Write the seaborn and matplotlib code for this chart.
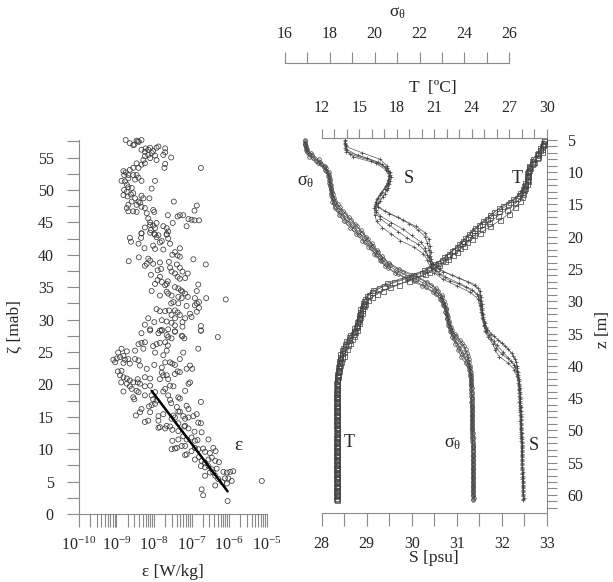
import numpy as np
import pandas as pd
import matplotlib
matplotlib.use("Agg")
import matplotlib.pyplot as plt
import seaborn as sns
from matplotlib.ticker import MultipleLocator, LogLocator, NullFormatter

# dissipation estimates: log10(eps [W/kg]) and height above bottom zeta [mab]
log_eps = [
    # upper layer
    -8.75, -8.64, -8.52, -8.46, -8.40, -8.33, -8.43, -8.55, -8.22, -8.15,
    -8.10, -7.88, -7.93, -7.70, -7.70, -8.33, -8.24, -8.06, -8.02, -8.15,
    -8.24, -8.28, -8.10, -7.97, -7.93, -7.75, -7.54, -7.70, -7.72, -8.46,
    -8.33, -8.24, -8.41, -8.55, -8.64, -8.81, -8.75, -8.79, -8.68, -8.55,
    -8.46, -8.41, -8.33, -8.50, -8.68, -8.86, -8.77, -8.72, -8.68, -8.59,
    -8.79, -8.72, -8.81, -8.70, -8.61, -8.55, -8.50, -8.33, -8.28, -8.41,
    -8.46, -8.37, -8.33, -8.59, -8.68, -8.72, -8.68, -8.55, -8.46, -8.24,
    -8.19, -8.15, -8.10, -8.02, -7.99, -7.97, -8.06, -8.12, -7.47, -7.63,
    -7.37, -7.31, -7.22, -6.86, -6.92, -7.08, -7.00, -6.92, -6.80, -7.13,
    -7.50, -7.75, -7.66, -7.62, -8.10, -8.02, -7.93, -7.97, -8.08, -8.24,
    -8.33, -7.99, -7.66, -6.75,
    # 28 - 43 mab
    -8.64, -8.61, -8.41, -8.34, -8.33, -8.10, -7.97, -7.88, -7.93, -7.66,
    -7.62, -7.57, -7.79, -7.84, -8.25, -8.02, -7.97, -7.75, -7.31, -7.44,
    -7.37, -7.31, -7.51, -6.95, -8.40, -8.67, -8.15, -8.10, -8.19, -8.24,
    -8.02, -7.84, -7.60, -7.39, -7.31, -7.57, -7.53, -7.81, -7.90, -8.08,
    -7.44, -7.24, -7.10, -7.37, -7.31, -7.17, -7.84, -7.90, -7.79, -7.66,
    -7.63, -7.70, -7.97, -7.44, -7.35, -7.24, -7.28, -7.17, -6.82, -6.86,
    -6.62, -8.06, -7.84, -7.62, -7.66, -7.53, -7.35, -7.26, -7.10, -6.91,
    -6.86, -6.80, -6.61, -6.09, -7.54, -7.48, -7.35, -7.13, -6.91, -6.80,
    -6.86, -7.93, -7.84, -7.70, -7.60, -7.44, -7.37, -7.53, -7.44, -7.31,
    -7.17, -7.04, -7.00, -8.15, -7.99, -7.79, -7.66, -7.53, -7.44, -7.24,
    -7.24, -8.24, -8.10, -7.84, -7.79, -7.62, -7.44, -6.75, -6.75,
    # 13 - 28 mab
    -8.33, -8.10, -7.88, -7.79, -7.66, -7.62, -7.53, -7.44, -7.26, -7.19,
    -7.24, -6.75, -6.30, -8.41, -8.33, -8.24, -8.02, -7.93, -7.84, -7.70,
    -7.63, -8.50, -8.28, -7.97, -7.75, -7.66, -7.22, -6.82, -8.86, -8.95,
    -9.08, -8.99, -8.90, -8.81, -8.72, -8.77, -8.68, -8.64, -8.81, -8.50,
    -8.41, -8.37, -9.03, -8.19, -7.99, -7.79, -7.70, -7.57, -7.51, -7.44,
    -7.31, -7.04, -6.98, -7.13, -7.37, -7.31, -7.44, -7.79, -7.75, -7.66,
    -7.62, -7.84, -8.10, -8.24, -8.96, -8.86, -8.90, -8.81, -8.72, -8.64,
    -8.55, -8.43, -8.37, -8.43, -8.87, -8.72, -8.64, -8.59, -8.46, -8.24,
    -8.10, -7.57, -7.48, -7.70, -7.75, -7.97, -8.41, -8.81, -7.17, -7.04,
    -7.08, -8.52, -8.55, -8.24, -8.06, -8.02, -7.93, -7.62, -7.57, -7.35,
    -7.31, -6.75, -8.33, -8.13, -7.97, -8.06, -7.54, -7.39, -7.31, -7.13,
    -7.08, -8.48, -8.37, -8.10, -8.15, -7.88, -7.75, -7.48, -7.35, -7.44,
    -7.22, -7.17, -7.08, -6.95, -6.86, -8.24, -7.88, -7.53, -7.35, -7.17,
    -6.82, -6.75, -7.84, -7.66,
    # bottom layer
    -7.88, -7.70, -7.57, -7.51, -7.35, -7.19, -7.08, -6.92, -6.73, -6.55,
    -7.51, -7.35, -7.22, -7.13, -7.00, -6.91, -6.84, -7.17, -7.26, -7.39,
    -7.53, -7.44, -7.13, -7.17, -7.00, -6.91, -6.82, -6.69, -6.64, -6.51,
    -6.42, -6.36, -6.91, -6.80, -6.73, -6.64, -6.55, -6.46, -6.37, -6.27,
    -6.75, -6.64, -6.55, -6.46, -6.33, -6.64, -6.51, -6.42, -6.37, -6.29,
    -6.15, -6.06, -5.97, -5.89, -6.11, -6.02, -5.93, -6.18, -6.06, -6.37,
    -6.73, -6.69, -6.04, -5.13,
]
zeta = [
    57.7, 57.2, 57.0, 57.6, 57.4, 57.7, 57.5, 56.9, 56.4, 56.2,
    56.5, 56.7, 56.5, 56.4, 55.8, 56.2, 55.9, 55.7, 56.0, 55.4,
    55.2, 54.6, 54.9, 55.3, 54.6, 55.4, 55.0, 54.0, 53.4, 54.1,
    53.9, 54.1, 53.4, 53.4, 53.1, 52.9, 52.7, 52.3, 52.3, 52.3,
    52.3, 51.9, 51.4, 51.6, 51.8, 51.4, 51.3, 50.8, 50.4, 50.3,
    50.0, 49.7, 49.2, 49.0, 49.3, 49.5, 48.7, 49.1, 48.7, 48.2,
    47.7, 48.0, 47.4, 48.2, 47.7, 47.2, 46.7, 46.7, 46.6, 47.2,
    46.4, 45.6, 45.0, 46.9, 46.6, 51.4, 50.2, 48.7, 48.2, 46.1,
    45.9, 46.1, 46.1, 47.6, 46.8, 45.5, 45.4, 45.3, 45.3, 44.4,
    44.9, 44.4, 44.1, 43.6, 44.6, 44.5, 44.9, 44.1, 43.8, 44.2,
    43.3, 43.2, 43.2, 53.4,
    42.6, 42.0, 41.7, 42.6, 43.3, 43.4, 43.1, 43.0, 42.7, 43.1,
    42.5, 41.7, 42.1, 41.9, 41.0, 41.4, 40.9, 40.8, 41.0, 40.4,
    39.9, 39.7, 40.0, 39.3, 39.6, 39.0, 39.4, 39.1, 38.6, 38.3,
    38.6, 38.8, 38.9, 38.5, 38.0, 38.0, 37.4, 37.8, 37.6, 36.9,
    37.1, 37.4, 37.1, 36.6, 36.3, 36.4, 36.6, 36.1, 35.8, 35.5,
    35.9, 35.3, 35.5, 35.0, 34.8, 34.3, 34.5, 34.0, 35.4, 34.4,
    38.5, 34.4, 33.7, 34.0, 34.3, 33.7, 33.5, 33.3, 33.5, 33.3,
    32.5, 32.7, 33.3, 33.1, 32.5, 32.7, 32.5, 32.1, 32.2, 31.8,
    31.2, 31.6, 31.3, 31.3, 31.4, 31.4, 31.1, 30.7, 30.2, 30.7,
    30.2, 30.9, 30.4, 30.2, 29.6, 29.9, 29.7, 29.5, 29.1, 29.6,
    28.9, 29.2, 28.5, 28.3, 28.3, 28.5, 28.2, 29.0, 28.3,
    27.9, 28.3, 27.9, 28.4, 27.6, 27.3, 27.1, 28.1, 27.5, 27.1,
    27.4, 28.3, 27.3, 26.2, 26.4, 26.5, 25.9, 26.2, 26.4, 26.5,
    26.0, 25.2, 25.5, 24.9, 24.5, 25.2, 24.9, 25.5, 25.5, 24.9,
    23.8, 24.0, 24.2, 24.4, 25.1, 23.8, 23.9, 23.2, 23.3, 23.9,
    23.7, 22.9, 23.4, 22.4, 23.0, 22.6, 23.4, 23.4, 23.2, 23.0,
    23.9, 22.9, 22.4, 22.4, 22.0, 21.9, 21.6, 21.8, 21.4, 21.4,
    20.8, 20.8, 20.9, 21.1, 22.0, 22.1, 21.4, 21.1, 20.9, 20.6,
    20.3, 20.3, 20.1, 20.8, 20.3, 20.1, 19.7, 19.3, 19.0, 19.7,
    19.8, 19.8, 19.7, 19.3, 18.9, 18.8, 18.8, 18.9, 19.0, 20.3,
    20.1, 17.7, 18.0, 18.3, 18.3, 17.7, 17.5, 18.3, 17.6, 18.0,
    17.8, 17.3, 16.2, 16.6, 17.0, 16.8, 17.1, 16.5, 15.8, 16.7,
    16.2, 15.2, 15.7, 15.7, 14.4, 15.1, 15.4, 15.2, 15.8, 14.9,
    15.1, 14.7, 14.9, 15.1, 15.4, 14.2, 14.4, 14.7, 14.0, 13.6,
    14.1, 14.0, 13.4, 13.6,
    13.3, 13.2, 13.5, 13.0, 12.8, 13.5, 13.2, 12.7, 12.6, 11.5,
    11.3, 11.5, 12.0, 11.5, 11.8, 11.3, 11.4, 10.5, 10.5, 10.2,
    10.0, 10.1, 9.2, 9.1, 9.7, 10.2, 10.0, 10.1, 9.6, 9.4,
    10.2, 9.7, 8.4, 8.8, 8.2, 7.9, 8.4, 8.7, 8.2, 8.0,
    7.4, 7.2, 7.4, 6.9, 7.0, 5.9, 6.4, 6.4, 5.9, 5.4,
    6.5, 6.4, 6.5, 6.6, 5.5, 5.5, 5.1, 4.9, 4.7, 4.4,
    3.8, 2.9, 2.0, 5.1,
]

# fit line over the bottom boundary layer
fit_log_eps = [-8.06, -6.04]
fit_zeta = [19.0, 3.5]

# CTD casts binned to 1 m; each cast sits slightly deeper than the one before
depth = [5, 6, 7, 8, 9, 10, 11, 12, 13, 14, 15, 16, 17, 18, 19, 20, 21, 22, 23, 24,
         25, 26, 27, 28, 29, 30, 31, 32, 33, 34, 35, 36, 37, 38, 39, 40, 41, 42, 43, 44,
         45, 46, 47, 48, 49, 50, 51, 52, 53, 54, 55, 56, 57, 58, 59, 60]
cast_shift = [0.0, 0.2, 0.4, 0.6, 0.8]

temp_casts = [
    [29.8, 29.6, 29.3, 28.9, 28.6, 28.5, 28.4, 28.3, 28.0, 27.6, 26.9, 26.2, 25.5, 24.8,
     24.2, 23.7, 23.2, 22.6, 22.0, 21.3, 20.5, 19.3, 17.8, 16.6, 15.8, 15.4, 15.2, 15.05,
     14.9, 14.75, 14.5, 14.15, 13.85, 13.6, 13.45, 13.35, 13.28, 13.22,
     13.21, 13.2, 13.2, 13.19, 13.2, 13.2, 13.21, 13.2, 13.2, 13.2, 13.19, 13.2, 13.2,
     13.2, 13.2, 13.19, 13.2, 13.2],
    [29.8, 29.5, 29.2, 28.8, 28.6, 28.4, 28.4, 28.2, 27.9, 27.3, 26.5, 25.8, 25.2, 24.6,
     24.0, 23.5, 23.0, 22.4, 21.8, 21.1, 20.2, 18.8, 17.2, 16.1, 15.6, 15.3, 15.1, 14.95,
     14.8, 14.6, 14.3, 13.95, 13.7, 13.5, 13.38, 13.3, 13.25, 13.2,
     13.19, 13.18, 13.18, 13.18, 13.17, 13.18, 13.18, 13.19, 13.18, 13.18, 13.17, 13.18,
     13.18, 13.18, 13.17, 13.18, 13.18, 13.18],
    [29.7, 29.6, 29.3, 29.0, 28.7, 28.5, 28.5, 28.3, 28.1, 27.9, 27.5, 27.0, 26.3, 25.5,
     24.7, 24.0, 23.4, 22.8, 22.1, 21.4, 20.6, 19.5, 18.2, 16.9, 16.0, 15.5, 15.25, 15.1,
     14.95, 14.8, 14.6, 14.3, 14.0, 13.75, 13.55, 13.4, 13.3, 13.24,
     13.23, 13.22, 13.22, 13.22, 13.21, 13.22, 13.22, 13.23, 13.22, 13.22, 13.21, 13.22,
     13.22, 13.22, 13.21, 13.22, 13.22, 13.22],
    [29.8, 29.5, 29.3, 28.9, 28.6, 28.5, 28.3, 28.1, 27.8, 27.1, 26.2, 25.5, 24.9, 24.3,
     23.8, 23.3, 22.8, 22.2, 21.6, 20.9, 20.0, 18.6, 17.0, 16.0, 15.5, 15.3, 15.1, 14.95,
     14.8, 14.55, 14.2, 13.85, 13.6, 13.45, 13.35, 13.28, 13.22, 13.18,
     13.17, 13.17, 13.16, 13.17, 13.17, 13.17, 13.16, 13.17, 13.17, 13.17, 13.16, 13.17,
     13.17, 13.17, 13.16, 13.17, 13.17, 13.17],
    [29.7, 29.6, 29.2, 28.8, 28.5, 28.4, 28.4, 28.2, 28.0, 27.5, 26.8, 26.1, 25.4, 24.8,
     24.2, 23.6, 23.1, 22.5, 21.9, 21.2, 20.3, 19.0, 17.5, 16.4, 15.7, 15.4, 15.2, 15.0,
     14.85, 14.7, 14.45, 14.1, 13.8, 13.6, 13.45, 13.35, 13.27, 13.22,
     13.21, 13.21, 13.2, 13.21, 13.21, 13.21, 13.2, 13.21, 13.21, 13.21, 13.2, 13.21,
     13.21, 13.21, 13.2, 13.21, 13.21, 13.21],
]

sal_casts = [
    [28.52, 28.53, 28.90, 29.30, 29.45, 29.52, 29.50, 29.45, 29.35, 29.25, 29.20, 29.40,
     29.70, 29.95, 30.15, 30.30, 30.35, 30.38, 30.40, 30.45, 30.60, 30.90, 31.25, 31.48,
     31.52, 31.54, 31.56, 31.58, 31.61, 31.66, 31.76, 31.92, 32.08, 32.22, 32.30, 32.34,
     32.36, 32.38,
     32.39, 32.40, 32.40, 32.41, 32.42, 32.42, 32.43, 32.43, 32.44, 32.44, 32.45, 32.45,
     32.46, 32.46, 32.47, 32.47, 32.48, 32.48],
    [28.52, 28.52, 28.62, 29.10, 29.40, 29.50, 29.48, 29.42, 29.32, 29.22, 29.18, 29.20,
     29.30, 29.50, 29.70, 29.90, 30.15, 30.30, 30.38, 30.42, 30.52, 30.75, 31.05, 31.35,
     31.48, 31.52, 31.55, 31.57, 31.60, 31.64, 31.72, 31.82, 31.88, 32.00, 32.20, 32.30,
     32.35, 32.37,
     32.38, 32.39, 32.40, 32.40, 32.41, 32.42, 32.42, 32.43, 32.43, 32.44, 32.44, 32.45,
     32.45, 32.46, 32.46, 32.47, 32.47, 32.48],
    [28.51, 28.54, 28.80, 29.25, 29.45, 29.52, 29.51, 29.47, 29.40, 29.30, 29.24, 29.50,
     29.80, 30.10, 30.30, 30.38, 30.40, 30.42, 30.43, 30.48, 30.70, 31.05, 31.40, 31.52,
     31.55, 31.56, 31.57, 31.59, 31.62, 31.68, 31.82, 32.00, 32.15, 32.25, 32.32, 32.35,
     32.37, 32.39,
     32.40, 32.40, 32.41, 32.42, 32.42, 32.43, 32.43, 32.44, 32.44, 32.45, 32.45, 32.46,
     32.46, 32.47, 32.47, 32.48, 32.48, 32.49],
    [28.52, 28.53, 28.70, 29.20, 29.42, 29.50, 29.47, 29.40, 29.30, 29.20, 29.17, 29.18,
     29.22, 29.35, 29.55, 29.75, 30.05, 30.25, 30.35, 30.40, 30.50, 30.70, 31.00, 31.30,
     31.47, 31.51, 31.54, 31.57, 31.60, 31.63, 31.70, 31.80, 31.86, 31.95, 32.15, 32.28,
     32.34, 32.37,
     32.38, 32.39, 32.39, 32.40, 32.41, 32.41, 32.42, 32.43, 32.43, 32.44, 32.44, 32.45,
     32.45, 32.46, 32.46, 32.47, 32.47, 32.48],
    [28.53, 28.55, 29.00, 29.35, 29.48, 29.53, 29.50, 29.45, 29.36, 29.26, 29.20, 29.30,
     29.55, 29.80, 30.00, 30.20, 30.30, 30.35, 30.40, 30.45, 30.60, 30.85, 31.20, 31.45,
     31.52, 31.54, 31.56, 31.58, 31.61, 31.66, 31.76, 31.90, 32.02, 32.15, 32.28, 32.33,
     32.36, 32.38,
     32.39, 32.40, 32.40, 32.41, 32.42, 32.42, 32.43, 32.43, 32.44, 32.44, 32.45, 32.45,
     32.46, 32.46, 32.47, 32.47, 32.48, 32.48],
]

sig_casts = [
    [16.89, 16.95, 17.15, 17.50, 17.80, 17.95, 18.00, 18.04, 18.08, 18.18, 18.35, 18.58,
     18.85, 19.12, 19.38, 19.62, 19.86, 20.08, 20.32, 20.62, 21.10, 21.80, 22.35, 22.75,
     22.98, 23.10, 23.18, 23.24, 23.30, 23.40, 23.56, 23.80, 24.00, 24.12, 24.20, 24.25,
     24.28, 24.30,
     24.31, 24.32, 24.32, 24.33, 24.34, 24.34, 24.35, 24.35, 24.36, 24.36, 24.37, 24.37,
     24.38, 24.38, 24.39, 24.39, 24.40, 24.40],
    [16.90, 16.93, 17.05, 17.40, 17.75, 17.92, 17.98, 18.02, 18.05, 18.12, 18.25, 18.45,
     18.70, 18.98, 19.25, 19.52, 19.78, 20.02, 20.25, 20.52, 20.95, 21.60, 22.20, 22.65,
     22.92, 23.06, 23.16, 23.22, 23.28, 23.36, 23.48, 23.62, 23.75, 23.90, 24.10, 24.22,
     24.27, 24.29,
     24.30, 24.31, 24.32, 24.32, 24.33, 24.34, 24.34, 24.35, 24.35, 24.36, 24.36, 24.37,
     24.37, 24.38, 24.38, 24.39, 24.39, 24.40],
    [16.88, 16.97, 17.20, 17.55, 17.82, 17.97, 18.02, 18.06, 18.12, 18.25, 18.45, 18.68,
     18.95, 19.22, 19.45, 19.68, 19.92, 20.14, 20.38, 20.70, 21.25, 21.95, 22.50, 22.82,
     23.02, 23.12, 23.20, 23.26, 23.32, 23.44, 23.62, 23.88, 24.05, 24.15, 24.22, 24.26,
     24.29, 24.31,
     24.32, 24.32, 24.33, 24.34, 24.34, 24.35, 24.35, 24.36, 24.36, 24.37, 24.37, 24.38,
     24.38, 24.39, 24.39, 24.40, 24.40, 24.41],
    [16.90, 16.92, 17.08, 17.45, 17.78, 17.93, 17.98, 18.03, 18.06, 18.10, 18.22, 18.40,
     18.62, 18.90, 19.18, 19.45, 19.72, 19.98, 20.22, 20.48, 20.90, 21.50, 22.10, 22.60,
     22.90, 23.05, 23.15, 23.22, 23.28, 23.35, 23.46, 23.60, 23.72, 23.85, 24.05, 24.20,
     24.26, 24.29,
     24.30, 24.31, 24.31, 24.32, 24.33, 24.33, 24.34, 24.35, 24.35, 24.36, 24.36, 24.37,
     24.37, 24.38, 24.38, 24.39, 24.39, 24.40],
    [16.91, 16.98, 17.25, 17.60, 17.85, 17.98, 18.01, 18.05, 18.09, 18.18, 18.35, 18.55,
     18.80, 19.08, 19.32, 19.58, 19.84, 20.06, 20.30, 20.60, 21.05, 21.75, 22.30, 22.72,
     22.96, 23.09, 23.18, 23.24, 23.30, 23.40, 23.55, 23.75, 23.92, 24.05, 24.18, 24.24,
     24.28, 24.30,
     24.31, 24.32, 24.32, 24.33, 24.34, 24.34, 24.35, 24.35, 24.36, 24.36, 24.37, 24.37,
     24.38, 24.38, 24.39, 24.39, 24.40, 24.40],
]

W, H = 613, 582
GRAY = '#8a8a8a'
LINE = '#5a5a5a'

sns.set_style('ticks')
plt.rcParams['font.family'] = ['Liberation Serif', 'DejaVu Serif']
plt.rcParams['mathtext.fontset'] = 'custom'
plt.rcParams['mathtext.rm'] = 'Liberation Serif'
plt.rcParams['mathtext.it'] = 'Liberation Serif:italic'
plt.rcParams['mathtext.bf'] = 'Liberation Serif:bold'
plt.rcParams['font.size'] = 11.5


def box(x0, x1, y0, y1):
    # pixel box -> figure fraction
    return [x0 / W, 1 - y1 / H, (x1 - x0) / W, (y1 - y0) / H]


diss = pd.DataFrame({'eps': 10.0 ** np.array(log_eps), 'zeta': zeta})
fit = pd.DataFrame({'eps': 10.0 ** np.array(fit_log_eps), 'zeta': fit_zeta})

rows = []
for k, shift in enumerate(cast_shift):
    for i, d in enumerate(depth):
        rows.append({'cast': k, 'z': d + shift, 'T': temp_casts[k][i],
                     'S': sal_casts[k][i], 'sig': sig_casts[k][i]})
prof = pd.DataFrame(rows)

fig = plt.figure(figsize=(W / 100, H / 100), dpi=100)

# ---------------- left panel ----------------
ax1 = fig.add_axes(box(78.7, 266.7, 140, 514))
ax1.set_xscale('log')
sns.scatterplot(data=diss, x='eps', y='zeta', ax=ax1, s=13, marker='o',
                facecolor='none', edgecolor='#3a3a3a', linewidth=0.55, clip_on=False)
sns.lineplot(data=fit, x='eps', y='zeta', ax=ax1, color='black', linewidth=1.8, sort=False)
ax1.set_xlim(1e-10, 1e-5)
ax1.set_ylim(0, 57.7)
ax1.xaxis.set_major_locator(LogLocator(base=10, numticks=12))
ax1.xaxis.set_minor_locator(LogLocator(base=10, subs=(2, 3, 4, 5, 6, 7, 8, 9), numticks=12))
ax1.xaxis.set_minor_formatter(NullFormatter())
ax1.yaxis.set_major_locator(MultipleLocator(5))
ax1.yaxis.set_minor_locator(MultipleLocator(2.5))
ax1.tick_params(axis='both', which='both', direction='out', length=9, width=0.8, color=GRAY)
ax1.tick_params(axis='y', pad=9)
ax1.tick_params(axis='x', pad=7)
for sp in ['top', 'right']:
    ax1.spines[sp].set_visible(False)
for sp in ['left', 'bottom']:
    ax1.spines[sp].set_color(GRAY)
ax1.set_xlabel('ε [W/kg]', fontsize=12.5)
ax1.set_ylabel('ζ [mab]', fontsize=12.5)
ax1.xaxis.set_label_coords(0.5, -0.135)
ax1.yaxis.set_label_coords(-0.30, 0.5)
ax1.text(10 ** -5.76, 10.5, 'ε', fontsize=14, ha='center', va='center')

# ---------------- right panel ----------------
ax_s = fig.add_axes(box(321.7, 546.7, 138, 513))
ax_t = ax_s.twiny()
ax_g = fig.add_axes(box(285, 509.3, 138, 513))
ax_g.patch.set_visible(False)

common = dict(units='cast', estimator=None, sort=False, color=LINE, linewidth=0.5,
              markeredgecolor='#404040', markerfacecolor='none', markeredgewidth=0.5)
sns.lineplot(data=prof, x='S', y='z', ax=ax_s, marker='+', markersize=3.0, **common)
sns.lineplot(data=prof, x='T', y='z', ax=ax_t, marker='s', markersize=3.6, **common)
sns.lineplot(data=prof, x='sig', y='z', ax=ax_g, marker='o', markersize=2.6, **common)

ax_s.set_xlim(28, 33)
ax_s.set_ylim(62.8, 4.7)
ax_t.set_xlim(12, 30)
ax_g.set_xlim(16, 26)
ax_g.set_ylim(62.8, 4.7)

# salinity (bottom) and depth (right)
for sp in ['left', 'top']:
    ax_s.spines[sp].set_visible(False)
for sp in ['right', 'bottom']:
    ax_s.spines[sp].set_color(GRAY)
ax_s.yaxis.tick_right()
ax_s.yaxis.set_label_position('right')
ax_s.yaxis.set_major_locator(MultipleLocator(5))
ax_s.yaxis.set_minor_locator(MultipleLocator(1))
ax_s.xaxis.set_major_locator(MultipleLocator(1))
ax_s.xaxis.set_minor_locator(MultipleLocator(0.5))
ax_s.tick_params(axis='y', which='both', direction='out', length=7, width=0.8, color=GRAY, pad=8)
ax_s.tick_params(axis='x', which='both', direction='out', length=9.5, width=0.8, color=GRAY, pad=7)
ax_s.set_xlabel('S [psu]', fontsize=12.5)
ax_s.xaxis.set_label_coords(0.5, -0.10)
ax_s.set_ylabel('z [m]', rotation=90, va='center', ha='center', fontsize=12.5)
ax_s.yaxis.set_label_coords(1.252, 0.49)

# temperature (top)
for sp in ['left', 'right', 'bottom']:
    ax_t.spines[sp].set_visible(False)
ax_t.spines['top'].set_color(GRAY)
ax_t.xaxis.set_major_locator(MultipleLocator(3))
ax_t.xaxis.set_minor_locator(MultipleLocator(1))
ax_t.tick_params(axis='x', which='both', direction='out', length=6.5, width=0.8, color=GRAY, pad=9)
ax_t.set_xlabel('T  [ºC]', fontsize=12.5)
ax_t.xaxis.set_label_coords(0.495, 1.123)

# potential density (detached top scale)
for sp in ['left', 'right', 'bottom']:
    ax_g.spines[sp].set_visible(False)
ax_g.spines['top'].set_color(GRAY)
ax_g.spines['top'].set_position(('outward', 54))
ax_g.xaxis.tick_top()
ax_g.xaxis.set_label_position('top')
ax_g.xaxis.set_major_locator(MultipleLocator(2))
ax_g.xaxis.set_minor_locator(MultipleLocator(1))
ax_g.tick_params(axis='x', which='both', direction='out', length=8, width=0.8, color=GRAY, pad=7)
ax_g.tick_params(axis='y', which='both', left=False, right=False, labelleft=False, labelright=False)
ax_g.set_ylabel('')
ax_g.set_xlabel(r'$\mathrm{\sigma_\theta}$', fontsize=12.5)
ax_g.xaxis.set_label_coords(0.5, 1.323)

# curve labels
ax_g.text(16.9, 11.4, r'$\mathrm{\sigma_\theta}$', fontsize=13, ha='center', va='center')
ax_s.text(29.94, 10.9, 'S', fontsize=13, ha='center', va='center')
ax_t.text(27.6, 10.9, 'T', fontsize=13, ha='center', va='center')
ax_t.text(14.2, 51.8, 'T', fontsize=13, ha='center', va='center')
ax_g.text(23.49, 52.1, r'$\mathrm{\sigma_\theta}$', fontsize=13, ha='center', va='center')
ax_s.text(32.72, 52.4, 'S', fontsize=13, ha='center', va='center')

fig.savefig('out.png', dpi=100)
